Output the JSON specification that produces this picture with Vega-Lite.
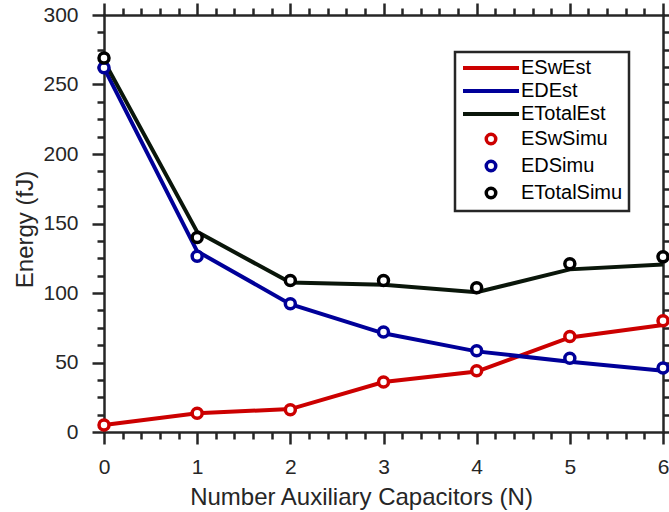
{
  "$schema": "https://vega.github.io/schema/vega-lite/v6.json",
  "width": 559,
  "height": 417,
  "autosize": "none",
  "padding": {"left": 104, "top": 15, "right": 6, "bottom": 80},
  "config": {
    "view": {"stroke": null},
    "font": "Liberation Sans",
    "axis": {
      "domainColor": "#262626", "domainWidth": 2.5, "domainCap": "square",
      "tickColor": "#262626", "tickWidth": 2.5, "grid": false,
      "labelColor": "#262626", "labelFontSize": 21, "labelFont": "Liberation Sans",
      "titleColor": "#262626", "titleFontSize": 24, "titleFont": "Liberation Sans", "titleFontWeight": "normal",
      "labelOverlap": false, "labelFlush": false
    }
  },
  "datasets": {
    "est": [
      {"N": 0, "series": "ESwEst", "E": 5},
      {"N": 1, "series": "ESwEst", "E": 13.5},
      {"N": 2, "series": "ESwEst", "E": 16.5},
      {"N": 3, "series": "ESwEst", "E": 36},
      {"N": 4, "series": "ESwEst", "E": 43.5},
      {"N": 5, "series": "ESwEst", "E": 68},
      {"N": 6, "series": "ESwEst", "E": 77},
      {"N": 0, "series": "EDEst", "E": 262},
      {"N": 1, "series": "EDEst", "E": 130},
      {"N": 2, "series": "EDEst", "E": 92},
      {"N": 3, "series": "EDEst", "E": 71},
      {"N": 4, "series": "EDEst", "E": 58},
      {"N": 5, "series": "EDEst", "E": 50.5},
      {"N": 6, "series": "EDEst", "E": 44},
      {"N": 0, "series": "ETotalEst", "E": 267},
      {"N": 1, "series": "ETotalEst", "E": 144},
      {"N": 2, "series": "ETotalEst", "E": 107.5},
      {"N": 3, "series": "ETotalEst", "E": 106},
      {"N": 4, "series": "ETotalEst", "E": 100.5},
      {"N": 5, "series": "ETotalEst", "E": 117},
      {"N": 6, "series": "ETotalEst", "E": 120.5}
    ],
    "simu": [
      {"N": 0, "series": "ESwSimu", "E": 5},
      {"N": 1, "series": "ESwSimu", "E": 13.5},
      {"N": 2, "series": "ESwSimu", "E": 16},
      {"N": 3, "series": "ESwSimu", "E": 36},
      {"N": 4, "series": "ESwSimu", "E": 44},
      {"N": 5, "series": "ESwSimu", "E": 68.7},
      {"N": 6, "series": "ESwSimu", "E": 80},
      {"N": 0, "series": "EDSimu", "E": 262},
      {"N": 1, "series": "EDSimu", "E": 126.5},
      {"N": 2, "series": "EDSimu", "E": 92.3},
      {"N": 3, "series": "EDSimu", "E": 72},
      {"N": 4, "series": "EDSimu", "E": 58.4},
      {"N": 5, "series": "EDSimu", "E": 53},
      {"N": 6, "series": "EDSimu", "E": 46},
      {"N": 0, "series": "ETotalSimu", "E": 269},
      {"N": 1, "series": "ETotalSimu", "E": 140},
      {"N": 2, "series": "ETotalSimu", "E": 109},
      {"N": 3, "series": "ETotalSimu", "E": 109},
      {"N": 4, "series": "ETotalSimu", "E": 103.8},
      {"N": 5, "series": "ETotalSimu", "E": 121},
      {"N": 6, "series": "ETotalSimu", "E": 126}
    ]
  },
  "resolve": {"axis": {"x": "independent", "y": "independent"}},
  "layer": [
    {
      "data": {"name": "est"},
      "mark": {"type": "line", "strokeWidth": 4},
      "encoding": {
        "x": {
          "field": "N", "type": "quantitative",
          "scale": {"domain": [0, 6], "nice": false, "zero": false},
          "axis": {
            "orient": "bottom",
            "title": "Number Auxiliary Capacitors (N)",
            "titleX": 257,
            "values": [0,0.2,0.4,0.6,0.8,1,1.2,1.4,1.6,1.8,2,2.2,2.4,2.6,2.8,3,3.2,3.4,3.6,3.8,4,4.2,4.4,4.6,4.8,5,5.2,5.4,5.6,5.8,6],
            "tickSize": {"condition": {"test": "abs(datum.value - round(datum.value)) < 0.001", "value": 12}, "value": 7},
            "labelExpr": "abs(datum.value - round(datum.value)) < 0.001 ? format(datum.value, 'd') : ''",
            "labelPadding": 12,
            "titlePadding": 8
          }
        },
        "y": {
          "field": "E", "type": "quantitative",
          "scale": {"domain": [0, 300], "nice": false},
          "axis": {
            "orient": "left",
            "title": "Energy (fJ)",
            "titleY": 214,
            "values": [0,12.5,25,37.5,50,62.5,75,87.5,100,112.5,125,137.5,150,162.5,175,187.5,200,212.5,225,237.5,250,262.5,275,287.5,300],
            "tickSize": {"condition": {"test": "datum.value % 50 === 0", "value": 12}, "value": 7},
            "labelExpr": "datum.value % 50 === 0 ? datum.label : ''",
            "labelPadding": 14,
            "titlePadding": 5
          }
        },
        "color": {
          "field": "series", "type": "nominal",
          "scale": {
            "domain": ["ESwEst", "EDEst", "ETotalEst", "ESwSimu", "EDSimu", "ETotalSimu"],
            "range": ["#cc0000", "#000099", "#0a160a", "#cc0000", "#000099", "#000000"]
          },
          "legend": {
            "title": null,
            "orient": "none",
            "legendX": 351,
            "legendY": 37,
            "padding": 6,
            "strokeColor": "#262626",
            "fillColor": "white",
            "labelFontSize": 20,
            "labelFont": "Liberation Sans",
            "labelColor": "#000000",
            "symbolSize": 90,
            "symbolStrokeWidth": 3.5,
            "symbolOffset": 20,
            "labelOffset": 20,
            "rowPadding": 3,
            "labelExpr": "datum.label + '\u00a0\u00a0'",
            "encode": {
              "legend": {"update": {"strokeWidth": {"value": 2.5}}},
              "symbols": {
                "update": {
                  "size": {"signal": "indexof(['ESwEst','EDEst','ETotalEst'], datum.value) >= 0 ? 3136 : 90"},
                  "strokeWidth": {"signal": "indexof(['ESwEst','EDEst','ETotalEst'], datum.value) >= 0 ? 4 : 3.5"},
                  "fill": {"value": "white"}
                }
              }
            }
          }
        },
        "detail": {"field": "series"}
      }
    },
    {
      "data": {"name": "simu"},
      "mark": {"type": "point", "filled": false, "fill": "white", "fillOpacity": 1, "size": 100, "strokeWidth": 3.5, "opacity": 1},
      "encoding": {
        "x": {
          "field": "N", "type": "quantitative",
          "axis": {
            "orient": "top",
            "title": null,
            "labels": false,
            "values": [0,0.2,0.4,0.6,0.8,1,1.2,1.4,1.6,1.8,2,2.2,2.4,2.6,2.8,3,3.2,3.4,3.6,3.8,4,4.2,4.4,4.6,4.8,5,5.2,5.4,5.6,5.8,6],
            "tickSize": {"condition": {"test": "abs(datum.value - round(datum.value)) < 0.001", "value": 12}, "value": 7}
          }
        },
        "y": {
          "field": "E", "type": "quantitative",
          "axis": {
            "orient": "right",
            "title": null,
            "labels": false,
            "values": [0,12.5,25,37.5,50,62.5,75,87.5,100,112.5,125,137.5,150,162.5,175,187.5,200,212.5,225,237.5,250,262.5,275,287.5,300],
            "tickSize": {"condition": {"test": "datum.value % 50 === 0", "value": 12}, "value": 7}
          }
        },
        "color": {"field": "series", "type": "nominal"},
        "shape": {
          "field": "series", "type": "nominal",
          "scale": {
            "domain": ["ESwEst", "EDEst", "ETotalEst", "ESwSimu", "EDSimu", "ETotalSimu"],
            "range": ["stroke", "stroke", "stroke", "circle", "circle", "circle"]
          }
        }
      }
    }
  ]
}
